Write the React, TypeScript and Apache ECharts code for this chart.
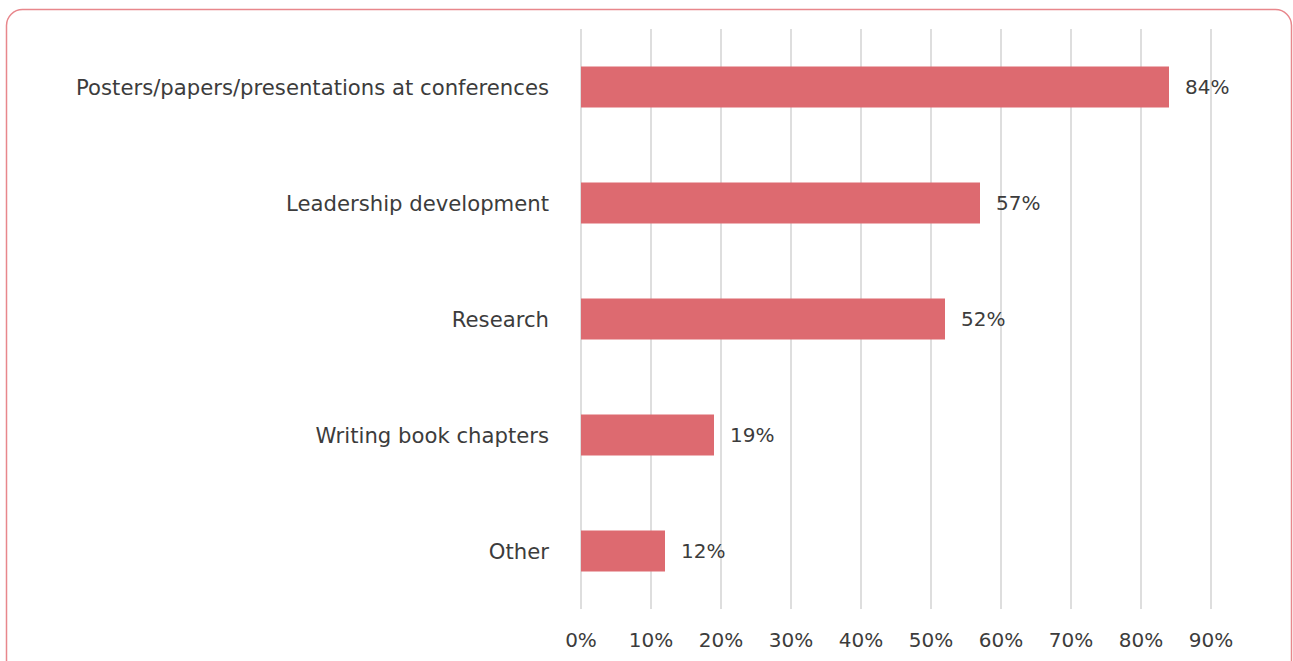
import React, { useEffect, useRef } from "react";
import * as echarts from "echarts";

const categories = [
  "Posters/papers/presentations at conferences",
  "Leadership development",
  "Research",
  "Writing book chapters",
  "Other",
];
const values = [84, 57, 52, 19, 12];
const axisTicks = [0, 10, 20, 30, 40, 50, 60, 70, 80, 90];

const FONT = "'DejaVu Sans', sans-serif";
const TEXT = "#3c3c3c";

export default function App() {
  const ref = useRef<HTMLDivElement>(null);
  useEffect(() => {
    const chart = echarts.init(ref.current!, null, { renderer: "svg" });
    chart.setOption({
      animation: false,
      backgroundColor: "#ffffff",
      graphic: [
        {
          type: "rect",
          shape: { x: 6.5, y: 9.5, width: 1285, height: 720, r: 16 },
          style: { fill: "none", stroke: "#e8878c", lineWidth: 1.5 },
          silent: true,
        },
      ],
      grid: { left: 581, right: 1293 - 1211, top: 29, bottom: 661 - 609, containLabel: false },
      xAxis: {
        type: "value",
        min: axisTicks[0],
        max: axisTicks[axisTicks.length - 1],
        interval: 10,
        axisLine: { show: false },
        axisTick: { show: false },
        splitLine: { show: true, lineStyle: { color: "#d6d6d6", width: 1.6 } },
        axisLabel: {
          formatter: "{value}%",
          color: TEXT,
          fontFamily: FONT,
          fontSize: 20,
          margin: 21,
        },
      },
      yAxis: {
        type: "category",
        data: categories,
        inverse: true,
        axisLine: { show: false },
        axisTick: { show: false },
        splitLine: { show: false },
        axisLabel: {
          color: TEXT,
          fontFamily: FONT,
          fontSize: 21.2,
          margin: 32,
        },
      },
      series: [
        {
          type: "bar",
          data: values,
          barCategoryGap: "64.5%",
          itemStyle: { color: "#dd6a70" },
          label: {
            show: true,
            position: "right",
            distance: 16,
            formatter: "{c}%",
            color: TEXT,
            fontFamily: FONT,
            fontSize: 20,
          },
        },
      ],
    });
    return () => chart.dispose();
  }, []);
  return (
    <div
      ref={ref}
      style={{ position: "fixed", left: 0, top: 0, width: 1293, height: 661 }}
    />
  );
}
